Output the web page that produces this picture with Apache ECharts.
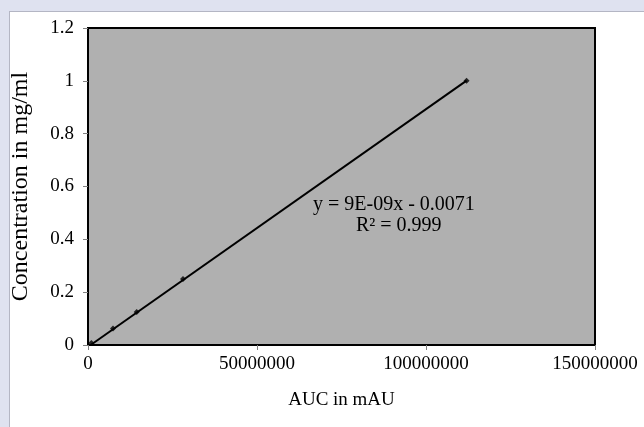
<!DOCTYPE html>
<html>
<head>
<meta charset="utf-8">
<script src="https://cdn.jsdelivr.net/npm/echarts@6/dist/echarts.min.js"></script>
<style>
  html, body { margin: 0; padding: 0; background: #dfe2f0; }
  #panel { position: absolute; left: 9px; top: 11px; width: 640px; height: 420px; background: #fff; border-left: 1px solid #b4b6c4; border-top: 1px solid #b4b6c4; }
  #calibChart { position: absolute; left: 0; top: 0; width: 644px; height: 427px; }
</style>
</head>
<body>
<div id="panel"></div>
<div id="calibChart"></div>
<script>
// 검량선 데이터 (AUC vs 농도)
var aucValues = [1000000, 7400000, 14400000, 28100000, 112000000];
var concValues = [0.0078, 0.0625, 0.125, 0.25, 1.0];

// 추세선 계수 (그림의 식에서 읽음)
var trendSlope = 9e-9;
var trendIntercept = -0.0071;
var equationText = 'y = 9E-09x - 0.0071';
var r2Text = 'R\u00B2 = 0.999';

var xTicks = [0, 50000000, 100000000, 150000000];
var yTicks = [0, 0.2, 0.4, 0.6, 0.8, 1, 1.2];

var points = aucValues.map(function (x, i) { return [x, concValues[i]]; });
var xFirst = aucValues[0];
var xLast = aucValues[aucValues.length - 1];
var trendLine = [
	[xFirst, trendSlope * xFirst + trendIntercept],
	[xLast, trendSlope * xLast + trendIntercept]
];

var chartDom = document.getElementById('calibChart');
var myChart = echarts.init(chartDom, null, { renderer: 'canvas' });

var serif = '"Liberation Serif", "DejaVu Serif", serif';

var option = {
	backgroundColor: 'transparent',
	animation: false,
	grid: {
		left: 88,
		top: 28,
		right: 49,
		bottom: 82,
		show: true,
		backgroundColor: '#b0b0b0',
		borderColor: '#000',
		borderWidth: 2
	},
	xAxis: {
		type: 'value',
		min: xTicks[0],
		max: xTicks[xTicks.length - 1],
		interval: 50000000,
		name: 'AUC in mAU',
		nameLocation: 'middle',
		nameGap: 46,
		nameTextStyle: { fontFamily: serif, fontSize: 19, color: '#000' },
		axisLine: { show: false },
		axisTick: { show: true, length: 5, lineStyle: { color: '#808080' } },
		axisLabel: {
			fontFamily: serif, fontSize: 19, color: '#000', margin: 10,
			formatter: function (v) { return String(v); }
		},
		splitLine: { show: false }
	},
	yAxis: {
		type: 'value',
		min: yTicks[0],
		max: yTicks[yTicks.length - 1],
		interval: 0.2,
		name: 'Concentration in mg/ml',
		nameLocation: 'middle',
		nameGap: 55,
		nameTextStyle: { fontFamily: serif, fontSize: 24, color: '#000' },
		axisLine: { show: false },
		axisTick: { show: true, length: 5, lineStyle: { color: '#808080' } },
		axisLabel: {
			fontFamily: serif, fontSize: 19, color: '#000', margin: 14,
			formatter: function (v) { return String(Math.round(v * 10) / 10); }
		},
		splitLine: { show: false }
	},
	series: [
		{
			name: 'trend',
			type: 'line',
			data: trendLine,
			symbol: 'none',
			lineStyle: { color: '#000', width: 2 },
			z: 3
		},
		{
			name: 'data',
			type: 'scatter',
			data: points,
			symbol: 'diamond',
			symbolSize: 6,
			itemStyle: { color: '#000' },
			z: 4
		}
	],
	graphic: [
		{
			type: 'text',
			left: 313,
			top: 195,
			style: { text: equationText, font: '20px ' + serif, fill: '#000' }
		},
		{
			type: 'text',
			left: 356,
			top: 216,
			style: { text: r2Text, font: '20px ' + serif, fill: '#000' }
		}
	]
};

myChart.setOption(option);
</script>
</body>
</html>
